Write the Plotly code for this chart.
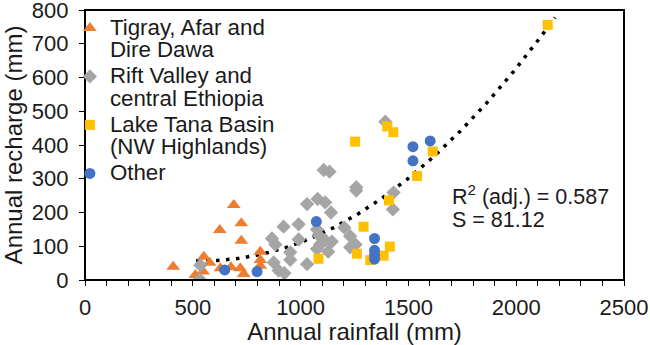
import numpy as np
import plotly.graph_objects as go

# ---- data ----
tigray_x = [409, 512, 548, 551, 578, 628, 625, 677, 690, 720, 725, 725, 736, 813, 813, 813]
tigray_y = [39, 15, 25, 69, 51, 35, 148, 38, 222, 35, 168, 116, 18, 84, 59, 42]

rift_x = [532, 535, 867, 883, 875, 898, 921, 925, 952, 952, 991, 991, 1030, 1030, 1076, 1076,
          1079, 1083, 1091, 1107, 1114, 1114, 1128, 1134, 1141, 1145, 1203, 1230, 1230, 1255,
          1258, 1258, 1393, 1428, 1431]
rift_y = [2, 44, 123, 105, 52, 28, 158, 20, 82, 60, 165, 120, 225, 47, 150, 92,
          240, 133, 106, 326, 230, 118, 84, 321, 200, 114, 155, 130, 97, 105,
          275, 265, 469, 209, 259]

tana_x = [1083, 1253, 1261, 1292, 1323, 1385, 1414, 1410, 1402, 1430, 1540, 1613, 2146]
tana_y = [63, 410, 78, 158, 59, 72, 99, 236, 455, 438, 308, 381, 756]

other_x = [648, 798, 1073, 1343, 1343, 1343, 1343, 1521, 1521, 1601]
other_y = [30, 25, 173, 123, 88, 75, 62, 395, 353, 412]

x_range = [0, 2500]
y_range = [0, 800]
trend_x_start, trend_x_end = 515, 2180
r2_text = "R<sup>2</sup> (adj.) = 0.587"
s_text = "S = 81.12"

# ---- trend: quadratic fit of all points ----
all_x = np.array(tigray_x + rift_x + tana_x + other_x, dtype=float)
all_y = np.array(tigray_y + rift_y + tana_y + other_y, dtype=float)
coef = np.polyfit(all_x, all_y, 2)
tx = np.linspace(trend_x_start, trend_x_end, 200)
ty = np.polyval(coef, tx)

FONT = "Arial, Liberation Sans, sans-serif"
TXT = "#1a1a1a"
BIG = 22.3

def lab(a, b=None):
    s = f'<span style="font-size:{BIG}px">{a}</span>'
    if b:
        s += f'<br><span style="font-size:{BIG}px">{b}</span>'
    return s

fig = go.Figure()
fig.add_trace(go.Scatter(x=tx, y=ty, mode="lines", showlegend=False,
                         line=dict(color="black", width=3.5, dash="3.5px,6.5px"),
                         hoverinfo="skip"))
fig.add_trace(go.Scatter(x=tigray_x, y=tigray_y, mode="markers", name=lab("Tigray, Afar and", "Dire Dawa"),
                         marker=dict(symbol="triangle-up", size=12, color="#ED7D31")))
fig.add_trace(go.Scatter(x=rift_x, y=rift_y, mode="markers", name=lab("Rift Valley and", "central Ethiopia"),
                         marker=dict(symbol="diamond", size=11, color="#A5A5A5")))
fig.add_trace(go.Scatter(x=tana_x, y=tana_y, mode="markers", name=lab("Lake Tana Basin", "(NW Highlands)"),
                         marker=dict(symbol="square", size=10, color="#FFC000")))
fig.add_trace(go.Scatter(x=other_x, y=other_y, mode="markers", name=lab("Other"),
                         marker=dict(symbol="circle", size=11, color="#4472C4")))

axis_common = dict(showline=True, linecolor="black", linewidth=1.3, mirror="allticks",
                   showgrid=False, zeroline=False, ticks="outside", ticklen=5,
                   tickcolor="black", tickwidth=1.3, automargin=False,
                   ticklabeloverflow="allow",
                   tickfont=dict(family=FONT, size=22, color=TXT),
                   title_font=dict(family=FONT, size=24, color=TXT))

fig.update_layout(
    width=650, height=345,
    margin=dict(l=85, r=26, t=10, b=65),
    plot_bgcolor="white", paper_bgcolor="white",
    font=dict(family=FONT, color=TXT),
    xaxis=dict(axis_common, range=x_range, dtick=500, tick0=0, mirror=True,
               minor=dict(dtick=100, ticks="outside", ticklen=5, tickcolor="black", tickwidth=1.3),
               title=dict(text="Annual rainfall (mm)"), ticklabelstandoff=2),
    yaxis=dict(axis_common, range=y_range, dtick=100, tick0=0, mirror=True,
               title=dict(text="Annual recharge (mm)"), ticklabelstandoff=6),
    legend=dict(x=-0.028, y=1.0, xanchor="left", yanchor="top", bgcolor="rgba(0,0,0,0)",
                font=dict(family=FONT, size=17.5, color=TXT), tracegroupgap=0,
                itemwidth=30, valign="top"),
    annotations=[
        dict(x=1694, y=252, xref="x", yref="y", text=r2_text, showarrow=False,
             xanchor="left", yanchor="middle", font=dict(family=FONT, size=21.5, color=TXT)),
        dict(x=1694, y=178, xref="x", yref="y", text=s_text, showarrow=False,
             xanchor="left", yanchor="middle", font=dict(family=FONT, size=21.5, color=TXT)),
    ],
)

# plot-area frame drawn on the data axes (top and right edges included)
fig.add_shape(type="rect", xref="x", yref="y",
              x0=x_range[0], x1=x_range[1], y0=y_range[0], y1=y_range[1],
              line=dict(color="black", width=2), fillcolor="rgba(0,0,0,0)", layer="above")

fig.write_html("out.html", config={"displayModeBar": False},
               post_script="document.body.style.margin='0';document.body.style.overflow='hidden';")
